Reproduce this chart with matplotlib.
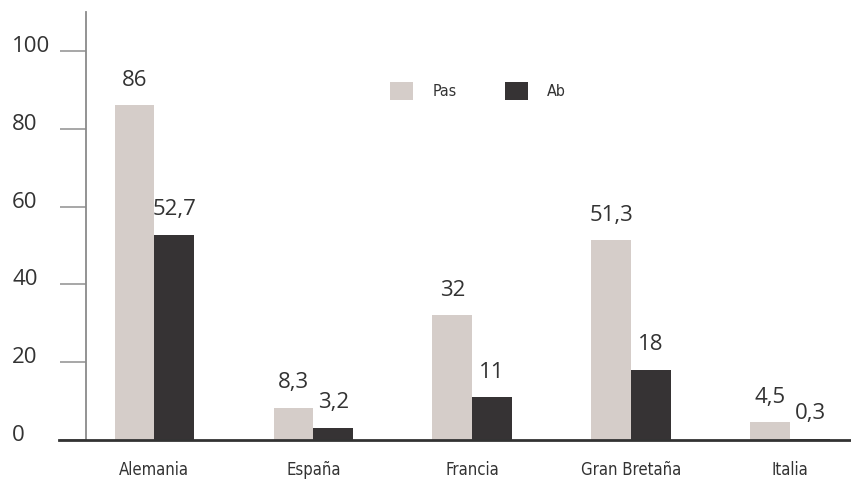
import numpy as np
import matplotlib.pyplot as plt
import matplotlib.transforms as mtransforms

#========= datos =========================================
paises = ['Alemania', 'España', 'Francia', 'Gran Bretaña', 'Italia']
pas = [86, 8.3, 32, 51.3, 4.5]
ab = [52.7, 3.2, 11, 18, 0.3]
pas_txt = ['86', '8,3', '32', '51,3', '4,5']
ab_txt = ['52,7', '3,2', '11', '18', '0,3']
yticks = [0, 20, 40, 60, 80, 100]

c_pas = '#d5cdc9'
c_ab = '#363334'
num_font = ['Open Sans', 'DejaVu Sans']
cond_font = ['DejaVu Sans']

fig = plt.figure(figsize=(8.51, 4.8), dpi=100)
ax = fig.add_axes([86/851, 40/480, (850-86)/851, (440-12)/480])

x = np.arange(len(paises))
w = 0.25
b1 = ax.bar(x - w/2, pas, w, color=c_pas, label='Pas', zorder=2)
b2 = ax.bar(x + w/2, ab, w, color=c_ab, label='Ab', zorder=2)

# etiquetas de valor
for rects, txts in [(b1, pas_txt), (b2, ab_txt)]:
    for r, t in zip(rects, txts):
        ax.annotate(t, (r.get_x() + r.get_width()/2, r.get_height()),
                    xytext=(0, 10.5), textcoords='offset points',
                    ha='center', va='bottom', fontsize=16, color='#333333',
                    family=num_font)

ax.set_xlim(-0.43, 4.377)
ax.set_ylim(0, 110)

for s in ['top', 'right', 'bottom']:
    ax.spines[s].set_visible(False)
ax.spines['left'].set_color('#8a8a8a')
ax.spines['left'].set_linewidth(1.3)

# linea base que sobresale a la izquierda
ax.plot([-0.6, 4.377], [0, 0], color='#333333', lw=2, clip_on=False, zorder=3)

ax.set_yticks(yticks)
ax.set_yticklabels([str(v) for v in yticks], fontsize=16, color='#333333', family=num_font)
ax.tick_params(axis='y', length=18.7, width=1.3, color='#a0a0a0', pad=34.5)
off = mtransforms.ScaledTranslation(0, 7/100, fig.dpi_scale_trans)
for lb in ax.get_yticklabels():
    lb.set_horizontalalignment('left')
    lb.set_transform(lb.get_transform() + off)

ax.set_xticks(x)
ax.set_xticklabels(paises, fontsize=12, color='#333333', family=cond_font, fontstretch='condensed')
ax.tick_params(axis='x', length=0, pad=15)

fig.legend(loc='center', bbox_to_anchor=(478/851, 1 - 91/480), ncol=2, frameon=False,
           handlelength=1.45, handleheight=1.45, handletextpad=1.2, columnspacing=3.0,
           prop={'family': cond_font, 'size': 11.5, 'stretch': 'condensed'})
for t in fig.legends[0].get_texts():
    t.set_color('#333333')

plt.savefig('out.png', dpi=100)
